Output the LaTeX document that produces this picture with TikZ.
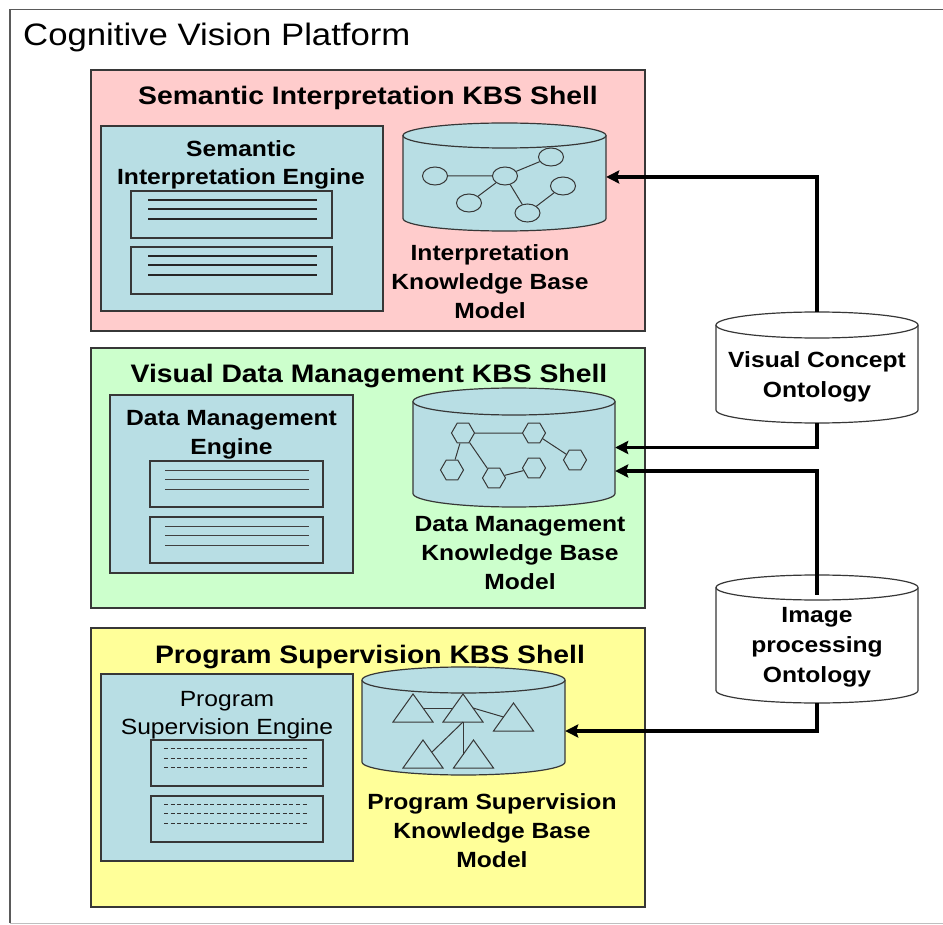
\documentclass[tikz,border=0pt]{standalone}
\usepackage{fontspec}
\setmainfont[FakeStretch=1.12]{Liberation Sans}
\usetikzlibrary{arrows.meta,shapes.geometric}
\definecolor{pinkbg}{RGB}{255,204,204}
\definecolor{greenbg}{RGB}{204,255,204}
\definecolor{yellowbg}{RGB}{255,255,153}
\definecolor{tealbg}{RGB}{184,222,228}
\definecolor{edgegray}{RGB}{55,55,55}
\definecolor{framegray}{RGB}{90,90,90}
\newcommand\ftitle{\fontsize{31}{36}\selectfont}
\newcommand\fshell{\fontsize{25.3}{30}\bfseries\selectfont}
\newcommand\flabA{\fontsize{22}{28}\selectfont}
\newcommand\flabB{\fontsize{22}{29}\selectfont}
\newcommand\flabC{\fontsize{22}{30}\selectfont}
\newcommand\mycyl[7]{%
  \pgfmathsetmacro\cyX{(#2+#3)/2}%
  \pgfmathsetmacro\cyR{(#3-#2)/2}%
  \pgfmathsetmacro\cyT{#4+#6}%
  \pgfmathsetmacro\cyB{#5-#6}%
  \pgfmathsetmacro\cyM{(#4+#5)/2}%
  \pgfmathsetmacro\cyW{#3-#2}%
  \pgfmathsetmacro\cyH{#5-#4}%
  \fill[#7] (#2,\cyT) rectangle (#3,\cyB);
  \fill[#7] (\cyX,\cyB) ellipse[x radius=\cyR, y radius=#6];
  \draw[cylline] (#2,\cyT) -- (#2,\cyB) arc[start angle=180,end angle=0,x radius=\cyR,y radius=#6] -- (#3,\cyT);
  \filldraw[cylline,fill=#7] (\cyX,\cyT) ellipse[x radius=\cyR,y radius=#6];
  \node[inner sep=0pt,minimum width=\cyW pt,minimum height=\cyH pt] (#1) at (\cyX,\cyM) {};
}
\newcommand\mytri[3]{%
  \filldraw[shapeline,fill=tealbg] (#2-20,#3+14) -- (#2,#3-14) -- (#2+20,#3+14) -- cycle;
  \coordinate (#1) at (#2,#3);
}
\begin{document}
\begin{tikzpicture}[x=1pt,y=-1pt,
  shellbox/.style={draw=edgegray,line width=1.2pt,inner sep=0pt},
  enginebox/.style={draw=edgegray,line width=1.2pt,fill=tealbg,inner sep=0pt},
  cylline/.style={draw=edgegray,line width=1.2pt},
  shapeline/.style={draw=edgegray,line width=1pt},
  ell/.style={ellipse,draw=edgegray,line width=1pt,fill=tealbg,minimum width=25pt,minimum height=18pt,inner sep=0pt},
  hexa/.style={regular polygon,regular polygon sides=6,draw=edgegray,line width=1pt,fill=tealbg,minimum size=23pt,inner sep=0pt},
  txt/.style={inner sep=0pt,align=center,text=black},
  arr/.style={line width=3.6pt,-{Stealth[length=13pt,width=13pt,inset=2pt]}},
  docline/.style={draw=black!85,line width=1.4pt},
  thinline/.style={draw=black!75,line width=0.8pt},
  dashline/.style={draw=black!80,line width=0.9pt,dash pattern=on 4pt off 2.6pt}
]
\useasboundingbox (0,0) rectangle (943,925);
\fill[white] (0,0) rectangle (943,925);
% outer frame
\draw[framegray,line width=1.4pt] (943,9.5) -- (10,9.5) -- (10,923);
\draw[black!25,line width=1pt] (10,923) -- (943,923);
\node[txt,anchor=base west] (title) at (23,46) {\ftitle Cognitive Vision Platform};

% shells
\node[shellbox,fill=pinkbg,minimum width=554pt,minimum height=261pt] (pinkshell) at (368,200.5) {};
\node[shellbox,fill=greenbg,minimum width=554pt,minimum height=260pt] (greenshell) at (368,478) {};
\node[shellbox,fill=yellowbg,minimum width=554pt,minimum height=279pt] (yellowshell) at (368,767.5) {};
\node[txt,anchor=base] (pinktitle) at (368,104.5) {\fshell Semantic Interpretation KBS Shell};
\node[txt,anchor=base] (greentitle) at (369,383) {\fshell Visual Data Management KBS Shell};
\node[txt,anchor=base] (yellowtitle) at (370,663) {\fshell Program Supervision KBS Shell};

% engines
\node[enginebox,minimum width=282pt,minimum height=185pt] (pinkeng) at (242,218.5) {};
\node[enginebox,minimum width=243pt,minimum height=178pt] (greeneng) at (231.5,484) {};
\node[enginebox,minimum width=252pt,minimum height=187pt] (yelloweng) at (227,767.5) {};

% document rectangles
\draw[cylline] (131,191) rectangle (332,238);
\draw[cylline] (131,247) rectangle (332,294);
\foreach \yy in {200,209,219,256,265,275} \draw[docline] (148,\yy) -- (317,\yy);
\draw[cylline] (150,461) rectangle (323,507);
\draw[cylline] (150,517) rectangle (323,563);
\foreach \yy in {470,479,489,526,535,545} \draw[thinline] (165,\yy) -- (309,\yy);
\draw[cylline] (151,740) rectangle (323,786);
\draw[cylline] (151,796) rectangle (323,842);
\foreach \yy in {748,758,767,804,813,823} \draw[dashline] (164,\yy) -- (309,\yy);

\node[txt,font=\flabA\bfseries] (pinkengtxt) at (241,164.5) {Semantic\\Interpretation Engine};
\node[txt,font=\flabB\bfseries] (greenengtxt) at (231.5,435) {Data Management\\Engine};
\node[txt,font=\flabA] (yellowengtxt) at (227,715) {Program\\Supervision Engine};

% cylinders
\mycyl{pcyl}{403}{606}{123}{231}{12.5}{tealbg}
\mycyl{gcyl}{413}{615}{388}{507}{13.5}{tealbg}
\mycyl{ycyl}{362}{565}{667}{775}{13}{tealbg}
\mycyl{vco}{716}{918}{312}{423}{13}{white}
\mycyl{ipo}{716}{918}{575}{703}{12.5}{white}

% graph of circles
\node[ell] (c1) at (435,176) {};
\node[ell] (c2) at (505,176) {};
\node[ell] (c3) at (551,157) {};
\node[ell] (c4) at (563,186) {};
\node[ell] (c5) at (469,203) {};
\node[ell] (c6) at (527.5,213) {};
\draw[shapeline] (c1) -- (c2) (c2) -- (c3) (c2) -- (c5) (c2) -- (c6) (c6) -- (c4);

% graph of hexagons
\node[hexa] (h1) at (463,433) {};
\node[hexa] (h2) at (534,433) {};
\node[hexa] (h3) at (575,460) {};
\node[hexa] (h4) at (452,470) {};
\node[hexa] (h5) at (494,478) {};
\node[hexa] (h6) at (534,468) {};
\draw[shapeline] (h1) -- (h2) (h1) -- (h4) (h1) -- (h5) (h2) -- (h3) (h5) -- (h6);

% graph of triangles
\mytri{t1}{413}{708}
\mytri{t2}{463}{708}
\mytri{t3}{513.5}{717}
\mytri{t4}{423}{754}
\mytri{t5}{473.5}{754}
\draw[shapeline] (423,708) -- (453,708);
\draw[shapeline] (473,708) -- (503.5,717);
\draw[shapeline] (463,722) -- (432,752);
\draw[shapeline] (463,722) -- (463,755);

% cylinder labels
\node[txt,font=\flabB\bfseries] (pcyltxt) at (490,281.5) {Interpretation\\Knowledge Base\\Model};
\node[txt,font=\flabB\bfseries] (gcyltxt) at (520,553) {Data Management\\Knowledge Base\\Model};
\node[txt,font=\flabB\bfseries] (ycyltxt) at (492,831) {Program Supervision\\Knowledge Base\\Model};
\node[txt,font=\flabC\bfseries] (vcotxt) at (817,377) {Visual Concept\\Ontology};
\node[txt,font=\flabC\bfseries] (ipotxt) at (817,647.5) {Image\\processing\\Ontology};

% connectors
\draw[arr] (vco.north) |- (pcyl.east);
\draw[arr] (vco.south) |- (gcyl.east);
\draw[arr] ([yshift=-20pt]ipo.north) |- ([yshift=-23.5pt]gcyl.east);
\draw[arr] (ipo.south) |- ([yshift=-10pt]ycyl.east);
\end{tikzpicture}
\end{document}
